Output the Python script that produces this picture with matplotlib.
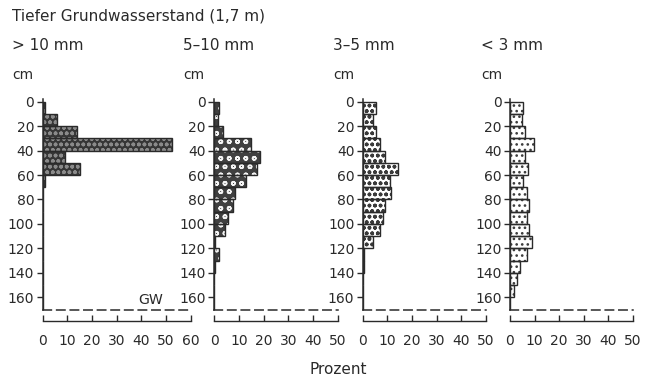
import matplotlib
matplotlib.use("Agg")
import matplotlib.pyplot as plt

plt.rcParams['font.family'] = ['DejaVu Sans']
plt.rcParams['hatch.linewidth'] = 1.1

# Depth classes (cm): each bar covers [top, top + 10)
depth_top = [0, 10, 20, 30, 40, 50, 60, 70, 80, 90, 100, 110, 120, 130, 140, 150, 160]

# Root share per depth class (Prozent) for each root diameter class
roots_gt10 = [1.2, 6, 14, 52.5, 9, 15, 1.2, 0, 0, 0, 0, 0, 0, 0, 0, 0, 0]
roots_5_10 = [2, 1.6, 3.4, 15, 18.5, 17.4, 12.7, 8.4, 7.4, 5.7, 4.3, 0.4, 2, 0.3, 0, 0, 0]
roots_3_5 = [5.4, 4.3, 5.3, 7, 9.2, 14.2, 11.1, 11.4, 9, 8.1, 7, 4.3, 0.7, 0.4, 0.3, 0, 0]
roots_lt3 = [5.4, 5.0, 6.3, 9.9, 5.9, 7.3, 5.1, 6.8, 7.8, 6.8, 7.8, 8.8, 6.8, 4.1, 3.0, 1.8, 0]

panel_titles = ["> 10 mm", "5\u201310 mm", "3\u20135 mm", "< 3 mm"]
x_maxima = [60, 50, 50, 50]
x_ticks = [[0, 10, 20, 30, 40, 50, 60], [0, 10, 20, 30, 40, 50],
           [0, 10, 20, 30, 40, 50], [0, 10, 20, 30, 40, 50]]
y_ticks = [0, 20, 40, 60, 80, 100, 120, 140, 160]
groundwater_depth = 170

series = [roots_gt10, roots_5_10, roots_3_5, roots_lt3]

# fill style per diameter class: (face, hatch, hatch colour)
styles = [
    ("#363636", "ooo", "#8a8a8a"),
    ("#404040", "oo", "#f4f4f4"),
    ("#ffffff", "ooo", "#3a3a3a"),
    ("#ffffff", "...", "#3a3a3a"),
]

ink = "#2a2a2a"
W, H = 645, 380
fig = plt.figure(figsize=(W / 100, H / 100), dpi=100)

# axes placement in pixels: (left, right)
x_px = [(42.5, 190.5), (214.3, 337.5), (362.7, 486.0), (510.0, 633.0)]
top_px, bot_px = 99.2, 309.5
label_x_px = [12, 183, 333, 481]

for i, vals in enumerate(series):
    l, r = x_px[i]
    ax = fig.add_axes([l / W, 1 - bot_px / H, (r - l) / W, (bot_px - top_px) / H])
    face, hatch, hcol = styles[i]
    ax.barh(depth_top, vals, height=10, align='edge', color=face,
            edgecolor=hcol, hatch=hatch, linewidth=0, zorder=2)
    ax.barh(depth_top, vals, height=10, align='edge', fill=False,
            edgecolor=ink, linewidth=1.0, zorder=3)
    ax.set_xlim(0, x_maxima[i])
    ax.set_ylim(groundwater_depth, -2)

    for s in ("top", "right"):
        ax.spines[s].set_visible(False)
    ax.spines["left"].set_color(ink)
    ax.spines["left"].set_linewidth(1.1)
    ax.spines["bottom"].set_color(ink)
    ax.spines["bottom"].set_linewidth(1.1)
    ax.spines["bottom"].set_linestyle((0, (5.5, 3.4)))
    ax.spines["left"].set_zorder(4)

    ax.set_xticks([])
    ax.set_yticks(y_ticks)
    ax.tick_params(axis='y', direction='out', length=4, width=1.0, color=ink,
                   labelsize=10, labelcolor=ink, pad=2)

    # separate percentage scale below the groundwater line
    sec = ax.secondary_xaxis(-0.055)
    sec.set_xticks(x_ticks[i])
    sec.spines["bottom"].set_color(ink)
    sec.spines["bottom"].set_linewidth(1.0)
    sec.tick_params(axis='x', direction='in', length=4, width=1.0, color=ink,
                    labelsize=10, labelcolor=ink, pad=9)

    lx = label_x_px[i] / W
    fig.text(lx, 1 - 75 / H, "cm", fontsize=10, color=ink, va='center', ha='left')
    fig.text(lx, 1 - 46 / H, panel_titles[i], fontsize=11, color=ink, va='center', ha='left')

    if i == 0:
        ax.text(44, 162, "GW", fontsize=10.2, color=ink, ha='center', va='center')

fig.text(12 / W, 1 - 16 / H, "Tiefer Grundwasserstand (1,7 m)", fontsize=11,
         color=ink, va='center', ha='left')
fig.text(338 / W, 1 - 370 / H, "Prozent", fontsize=11, color=ink,
         va='center', ha='center')

fig.savefig("out.png", dpi=100, facecolor="white")
